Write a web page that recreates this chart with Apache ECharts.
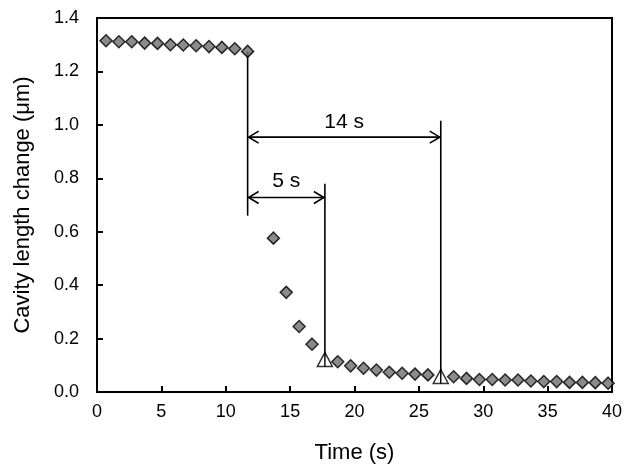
<!DOCTYPE html>
<html><head><meta charset="utf-8">
<script src="https://cdn.jsdelivr.net/npm/echarts@6/dist/echarts.min.js"></script>
<style>html,body{margin:0;padding:0;background:#fff}#c{width:627px;height:472px}</style>
</head><body><div id="c"></div>
<script>
// Data (time in s, cavity length change in µm)
const diamondTimes = [0.7,1.7,2.7,3.7,4.7,5.7,6.7,7.7,8.7,9.7,10.7,11.7,
  13.7,14.7,15.7,16.7,
  18.7,19.7,20.7,21.7,22.7,23.7,24.7,25.7,
  27.7,28.7,29.7,30.7,31.7,32.7,33.7,34.7,35.7,36.7,37.7,38.7,39.7];
const diamondValues = [1.315,1.311,1.311,1.306,1.305,1.300,1.299,1.296,1.293,1.290,1.285,1.275,
  0.576,0.373,0.245,0.179,
  0.113,0.098,0.089,0.082,0.074,0.070,0.067,0.064,
  0.057,0.051,0.047,0.047,0.045,0.045,0.041,0.039,0.039,0.036,0.036,0.035,0.033];
const triangleTimes = [17.7, 26.7];
const triangleValues = [0.122, 0.058];
// Annotation guide lines: [x, yFrom, yTo]
const guideLines = [[11.7, 1.275, 0.66],[17.7, 0.122, 0.78],[26.7, 0.058, 1.015]];
// Double arrows: [xStart, xEnd, y, label, labelY]
const arrows = [[11.7, 17.7, 0.728, '5 s', 0.79],[11.7, 26.7, 0.954, '14 s', 1.01]];
const xTicks = [0,5,10,15,20,25,30,35,40];
const yTicks = [0,0.2,0.4,0.6,0.8,1.0,1.2,1.4];

const chart = echarts.init(document.getElementById('c'), null, {renderer:'canvas'});
const font = 'Liberation Sans, Arial, sans-serif';
chart.setOption({
  animation:false,
  grid:{left:97,right:15,top:18,bottom:80,show:true,borderColor:'#000',borderWidth:2,backgroundColor:'transparent'},
  xAxis:{type:'value',min:xTicks[0],max:xTicks[xTicks.length-1],interval:5,
    name:'Time (s)',nameLocation:'middle',nameGap:50,
    nameTextStyle:{fontFamily:font,fontSize:22,color:'#000'},
    axisLine:{lineStyle:{color:'#000',width:2}},
    axisTick:{inside:true,length:6,lineStyle:{color:'#000',width:2}},
    axisLabel:{fontFamily:font,fontSize:18,color:'#000',margin:11},
    splitLine:{show:false}},
  yAxis:{type:'value',min:yTicks[0],max:yTicks[yTicks.length-1],interval:0.2,
    name:'Cavity length change (μm)',nameLocation:'middle',nameGap:63,
    nameTextStyle:{fontFamily:font,fontSize:22,color:'#000'},
    axisLine:{lineStyle:{color:'#000',width:2}},
    axisTick:{inside:true,length:6,lineStyle:{color:'#000',width:2}},
    axisLabel:{fontFamily:font,fontSize:18,color:'#000',margin:18,formatter:v=>v.toFixed(1)},
    splitLine:{show:false}},
  series:[
    {type:'custom',z:1,data:[0],renderItem:function(params,api){
      const ch=[];
      guideLines.forEach(g=>{
        const a=api.coord([g[0],g[1]]), b=api.coord([g[0],g[2]]);
        ch.push({type:'line',shape:{x1:a[0],y1:a[1],x2:b[0],y2:b[1]},style:{stroke:'#000',lineWidth:1.6}});
      });
      arrows.forEach(ar=>{
        const a=api.coord([ar[0],ar[2]]), b=api.coord([ar[1],ar[2]]);
        const h=11, w=6;
        ch.push({type:'line',shape:{x1:a[0]+1,y1:a[1],x2:b[0]-1,y2:b[1]},style:{stroke:'#000',lineWidth:1.6}});
        ch.push({type:'polyline',shape:{points:[[a[0]+h,a[1]-w],[a[0]+1,a[1]],[a[0]+h,a[1]+w]]},style:{stroke:'#000',lineWidth:1.6,fill:null}});
        ch.push({type:'polyline',shape:{points:[[b[0]-h,b[1]-w],[b[0]-1,b[1]],[b[0]-h,b[1]+w]]},style:{stroke:'#000',lineWidth:1.6,fill:null}});
        const t=api.coord([(ar[0]+ar[1])/2, ar[4]]);
        ch.push({type:'text',style:{x:t[0],y:t[1],text:ar[3],fill:'#000',font:'21px '+font,textAlign:'center',textVerticalAlign:'middle'}});
      });
      return {type:'group',children:ch};
    }},
    {type:'scatter',z:3,symbol:'diamond',symbolSize:12,
      data:diamondTimes.map((t,i)=>[t,diamondValues[i]]),
      itemStyle:{color:'#6e6e6e',borderColor:'#000',borderWidth:1.5}},
    {type:'scatter',z:2,symbol:'triangle',symbolSize:[15,14],
      data:triangleTimes.map((t,i)=>[t,triangleValues[i]]),
      itemStyle:{color:'#fff',borderColor:'#000',borderWidth:1.5}},
    {type:'custom',z:4,data:[0],renderItem:function(params,api){
      const ch=[];
      triangleTimes.forEach((t,i)=>{
        const a=api.coord([t,triangleValues[i]]);
        ch.push({type:'line',shape:{x1:a[0],y1:a[1]-7,x2:a[0],y2:a[1]+7},style:{stroke:'#000',lineWidth:1.4}});
      });
      return {type:'group',children:ch};
    }}
  ]
});
</script></body></html>
